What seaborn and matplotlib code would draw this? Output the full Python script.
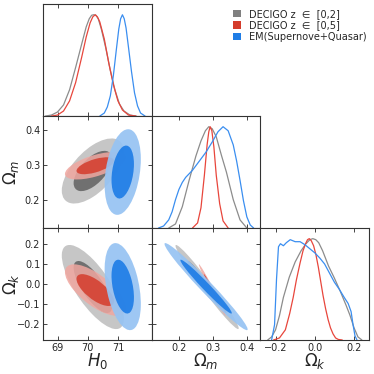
import numpy as np
import matplotlib
matplotlib.use("Agg")
import matplotlib.pyplot as plt
from matplotlib.patches import Ellipse, Patch
import seaborn as sns

# Parameters and axis setup
params = ["H0", "Om", "Ok"]
param_labels = [r"$H_0$", r"$\Omega_m$", r"$\Omega_k$"]
param_lims = [(68.52, 72.12), (0.12, 0.44), (-0.277, 0.277)]
param_ticks = [[69, 70, 71], [0.2, 0.3, 0.4], [-0.2, 0.0, 0.2]]
row_ticks = {1: [0.2, 0.3, 0.4], 2: [-0.2, -0.1, 0.0, 0.1, 0.2]}

datasets = ["DECIGO z  \u2208  [0,2]", "DECIGO z  \u2208  [0,5]", "EM(Supernove+Quasar)"]
line_colors = ["#8c8c8c", "#e8463c", "#3a8ef0"]
outer_colors = ["#c6c6c6", "#f0a7a0", "#96c3f3"]
inner_colors = ["#707070", "#d43c2c", "#1f7de6"]
legend_colors = ["#808080", "#d43c2c", "#1f7de6"]
fill_alpha = [1.0, 0.85, 0.92]

# 2D Gaussian summaries (mean, sigma, correlation)
means = [[70.17, 0.283, -0.015], [70.25, 0.298, -0.030], [71.16, 0.280, -0.013]]
sigmas = [[0.42, 0.038, 0.085], [0.41, 0.016, 0.052], [0.245, 0.050, 0.088]]
corr_h0_om = [0.6, 0.6, 0.3]
corr_h0_ok = [-0.75, -0.7, -0.4]
corr_om_ok = [-0.98, -0.99, -0.98]

# 1D marginals
h0_x = [[68.6, 68.8, 69.0, 69.2, 69.4, 69.6, 69.8, 69.95, 70.05, 70.13, 70.2, 70.27, 70.35, 70.45,
         70.6, 70.75, 70.9, 71.05, 71.2, 71.4, 71.6],
        [68.8, 69.0, 69.2, 69.4, 69.6, 69.8, 69.95, 70.08, 70.17, 70.25, 70.32, 70.4, 70.55, 70.7,
         70.85, 71.0, 71.15, 71.35, 71.6],
        [70.4, 70.55, 70.65, 70.75, 70.85, 70.95, 71.03, 71.09, 71.15, 71.21, 71.27, 71.35, 71.45,
         71.55, 71.65, 71.75, 71.9]]
h0_y = [[0.0, 0.01, 0.04, 0.11, 0.26, 0.48, 0.71, 0.88, 0.96, 0.995, 1.0, 0.995, 0.96, 0.86,
         0.67, 0.45, 0.26, 0.12, 0.05, 0.01, 0.0],
        [0.0, 0.01, 0.05, 0.15, 0.33, 0.58, 0.78, 0.92, 0.98, 1.0, 0.98, 0.93, 0.76, 0.52,
         0.31, 0.15, 0.06, 0.01, 0.0],
        [0.0, 0.03, 0.09, 0.2, 0.4, 0.66, 0.86, 0.96, 1.0, 0.96, 0.87, 0.68, 0.44,
         0.23, 0.1, 0.03, 0.0]]

om_x = [[0.17, 0.19, 0.21, 0.23, 0.25, 0.265, 0.278, 0.288, 0.298, 0.31, 0.325, 0.34, 0.36, 0.38, 0.40],
        [0.24, 0.255, 0.265, 0.275, 0.283, 0.288, 0.292, 0.297, 0.303, 0.31, 0.32, 0.33, 0.345],
        [0.14, 0.155, 0.17, 0.18, 0.19, 0.20, 0.21, 0.22, 0.24, 0.26, 0.28, 0.30, 0.315, 0.33,
         0.345, 0.36, 0.37, 0.38, 0.39, 0.40, 0.41, 0.42]]
om_y = [[0.0, 0.04, 0.21, 0.47, 0.71, 0.86, 0.96, 1.0, 0.98, 0.9, 0.72, 0.55, 0.28, 0.08, 0.0],
        [0.0, 0.05, 0.2, 0.52, 0.82, 0.95, 1.0, 0.96, 0.8, 0.52, 0.24, 0.07, 0.0],
        [0.0, 0.02, 0.08, 0.16, 0.28, 0.38, 0.45, 0.5, 0.57, 0.66, 0.75, 0.86, 0.95, 1.0,
         0.96, 0.82, 0.66, 0.47, 0.27, 0.11, 0.03, 0.0]]

ok_x = [[-0.24, -0.22, -0.2, -0.18, -0.16, -0.13, -0.1, -0.07, -0.045, -0.025, -0.01, 0.005, 0.02, 0.04,
         0.07, 0.1, 0.13, 0.16, 0.18, 0.2, 0.22, 0.24],
        [-0.21, -0.18, -0.15, -0.128, -0.11, -0.094, -0.075, -0.06, -0.047, -0.037, -0.028, -0.018,
         -0.006, 0.006, 0.018, 0.03, 0.042, 0.055, 0.068, 0.08, 0.093, 0.106, 0.12, 0.14],
        [-0.22, -0.205, -0.195, -0.185, -0.175, -0.16, -0.145, -0.125, -0.1, -0.075, -0.05,
         -0.025, 0.0, 0.025, 0.05, 0.075, 0.1, 0.125, 0.15, 0.17, 0.185, 0.195, 0.205, 0.215]]
ok_y = [[0.0, 0.03, 0.1, 0.24, 0.42, 0.62, 0.77, 0.88, 0.95, 0.99, 1.0, 0.99, 0.96, 0.88,
         0.73, 0.61, 0.48, 0.34, 0.24, 0.12, 0.03, 0.0],
        [0.0, 0.02, 0.1, 0.26, 0.42, 0.59, 0.76, 0.88, 0.95, 0.99, 1.0, 0.98, 0.93, 0.84,
         0.72, 0.58, 0.44, 0.31, 0.2, 0.12, 0.06, 0.02, 0.005, 0.0],
        [0.0, 0.15, 0.6, 0.92, 0.95, 0.93, 0.96, 0.99, 0.97, 0.97, 0.94, 0.9, 0.86, 0.81,
         0.75, 0.66, 0.57, 0.5, 0.42, 0.36, 0.28, 0.15, 0.04, 0.0]]

marg_x = [h0_x, om_x, ok_x]
marg_y = [h0_y, om_y, ok_y]

sns.set_style("ticks")
plt.rcParams["font.family"] = ["DejaVu Sans"]
plt.rcParams["mathtext.fontset"] = "dejavusans"

fig, axes = plt.subplots(3, 3, figsize=(3.74, 3.74), dpi=100)
fig.subplots_adjust(left=0.115, right=0.987, bottom=0.091, top=0.989, wspace=0, hspace=0)


def draw_ellipses(ax, i, j, k):
    mx, my = means[k][j], means[k][i]
    sx, sy = sigmas[k][j], sigmas[k][i]
    rho = {(1, 0): corr_h0_om, (2, 0): corr_h0_ok, (2, 1): corr_om_ok}[(i, j)][k]
    cov = np.array([[sx**2, rho * sx * sy], [rho * sx * sy, sy**2]])
    vals, vecs = np.linalg.eigh(cov)
    angle = np.degrees(np.arctan2(vecs[1, 1], vecs[0, 1]))
    # 95% and 68% 2D confidence regions
    for scale, col in [(2.448, outer_colors[k]), (1.515, inner_colors[k])]:
        e = Ellipse((mx, my), 2 * scale * np.sqrt(vals[1]), 2 * scale * np.sqrt(vals[0]),
                    angle=angle, facecolor=col, edgecolor="none", alpha=fill_alpha[k])
        ax.add_patch(e)


for i in range(3):
    for j in range(3):
        ax = axes[i, j]
        if j > i:
            ax.axis("off")
            continue
        for s in ax.spines.values():
            s.set_color("#333333")
            s.set_linewidth(0.8)
        ax.tick_params(direction="in", top=True, right=True, length=3, width=0.6,
                       labelsize=7, pad=2)
        if i == j:
            for k in range(3):
                sns.lineplot(x=marg_x[i][k], y=marg_y[i][k], ax=ax, color=line_colors[k],
                             lw=0.9, estimator=None)
            ax.set_ylim(0, 1.105)
            ax.set_yticks([])
            ax.tick_params(left=False, right=False)
        else:
            for k in range(3):
                draw_ellipses(ax, i, j, k)
            ax.set_ylim(param_lims[i])
            ax.set_yticks(row_ticks[i])
        ax.set_xlim(param_lims[j])
        ax.set_xticks(param_ticks[j])
        ax.set_xlabel("")
        ax.set_ylabel("")
        if i < 2:
            ax.set_xticklabels([])
        else:
            ax.set_xlabel(param_labels[j], fontsize=12, labelpad=-1)
        if j > 0:
            ax.set_yticklabels([])
        elif i > 0:
            ax.set_yticklabels([f"{t:.1f}".replace("-", "\u2212") for t in row_ticks[i]])
            ax.set_ylabel(param_labels[i], fontsize=12)
            ax.yaxis.set_label_coords(-0.2, 0.5)

handles = [Patch(facecolor=c, edgecolor="none") for c in legend_colors]
fig.legend(handles, datasets, loc="upper left", bbox_to_anchor=(0.6, 1.0),
           frameon=False, fontsize=7, handlelength=0.8, handleheight=0.8,
           handletextpad=0.8, labelspacing=0.15)

fig.savefig("out.png", dpi=100)
